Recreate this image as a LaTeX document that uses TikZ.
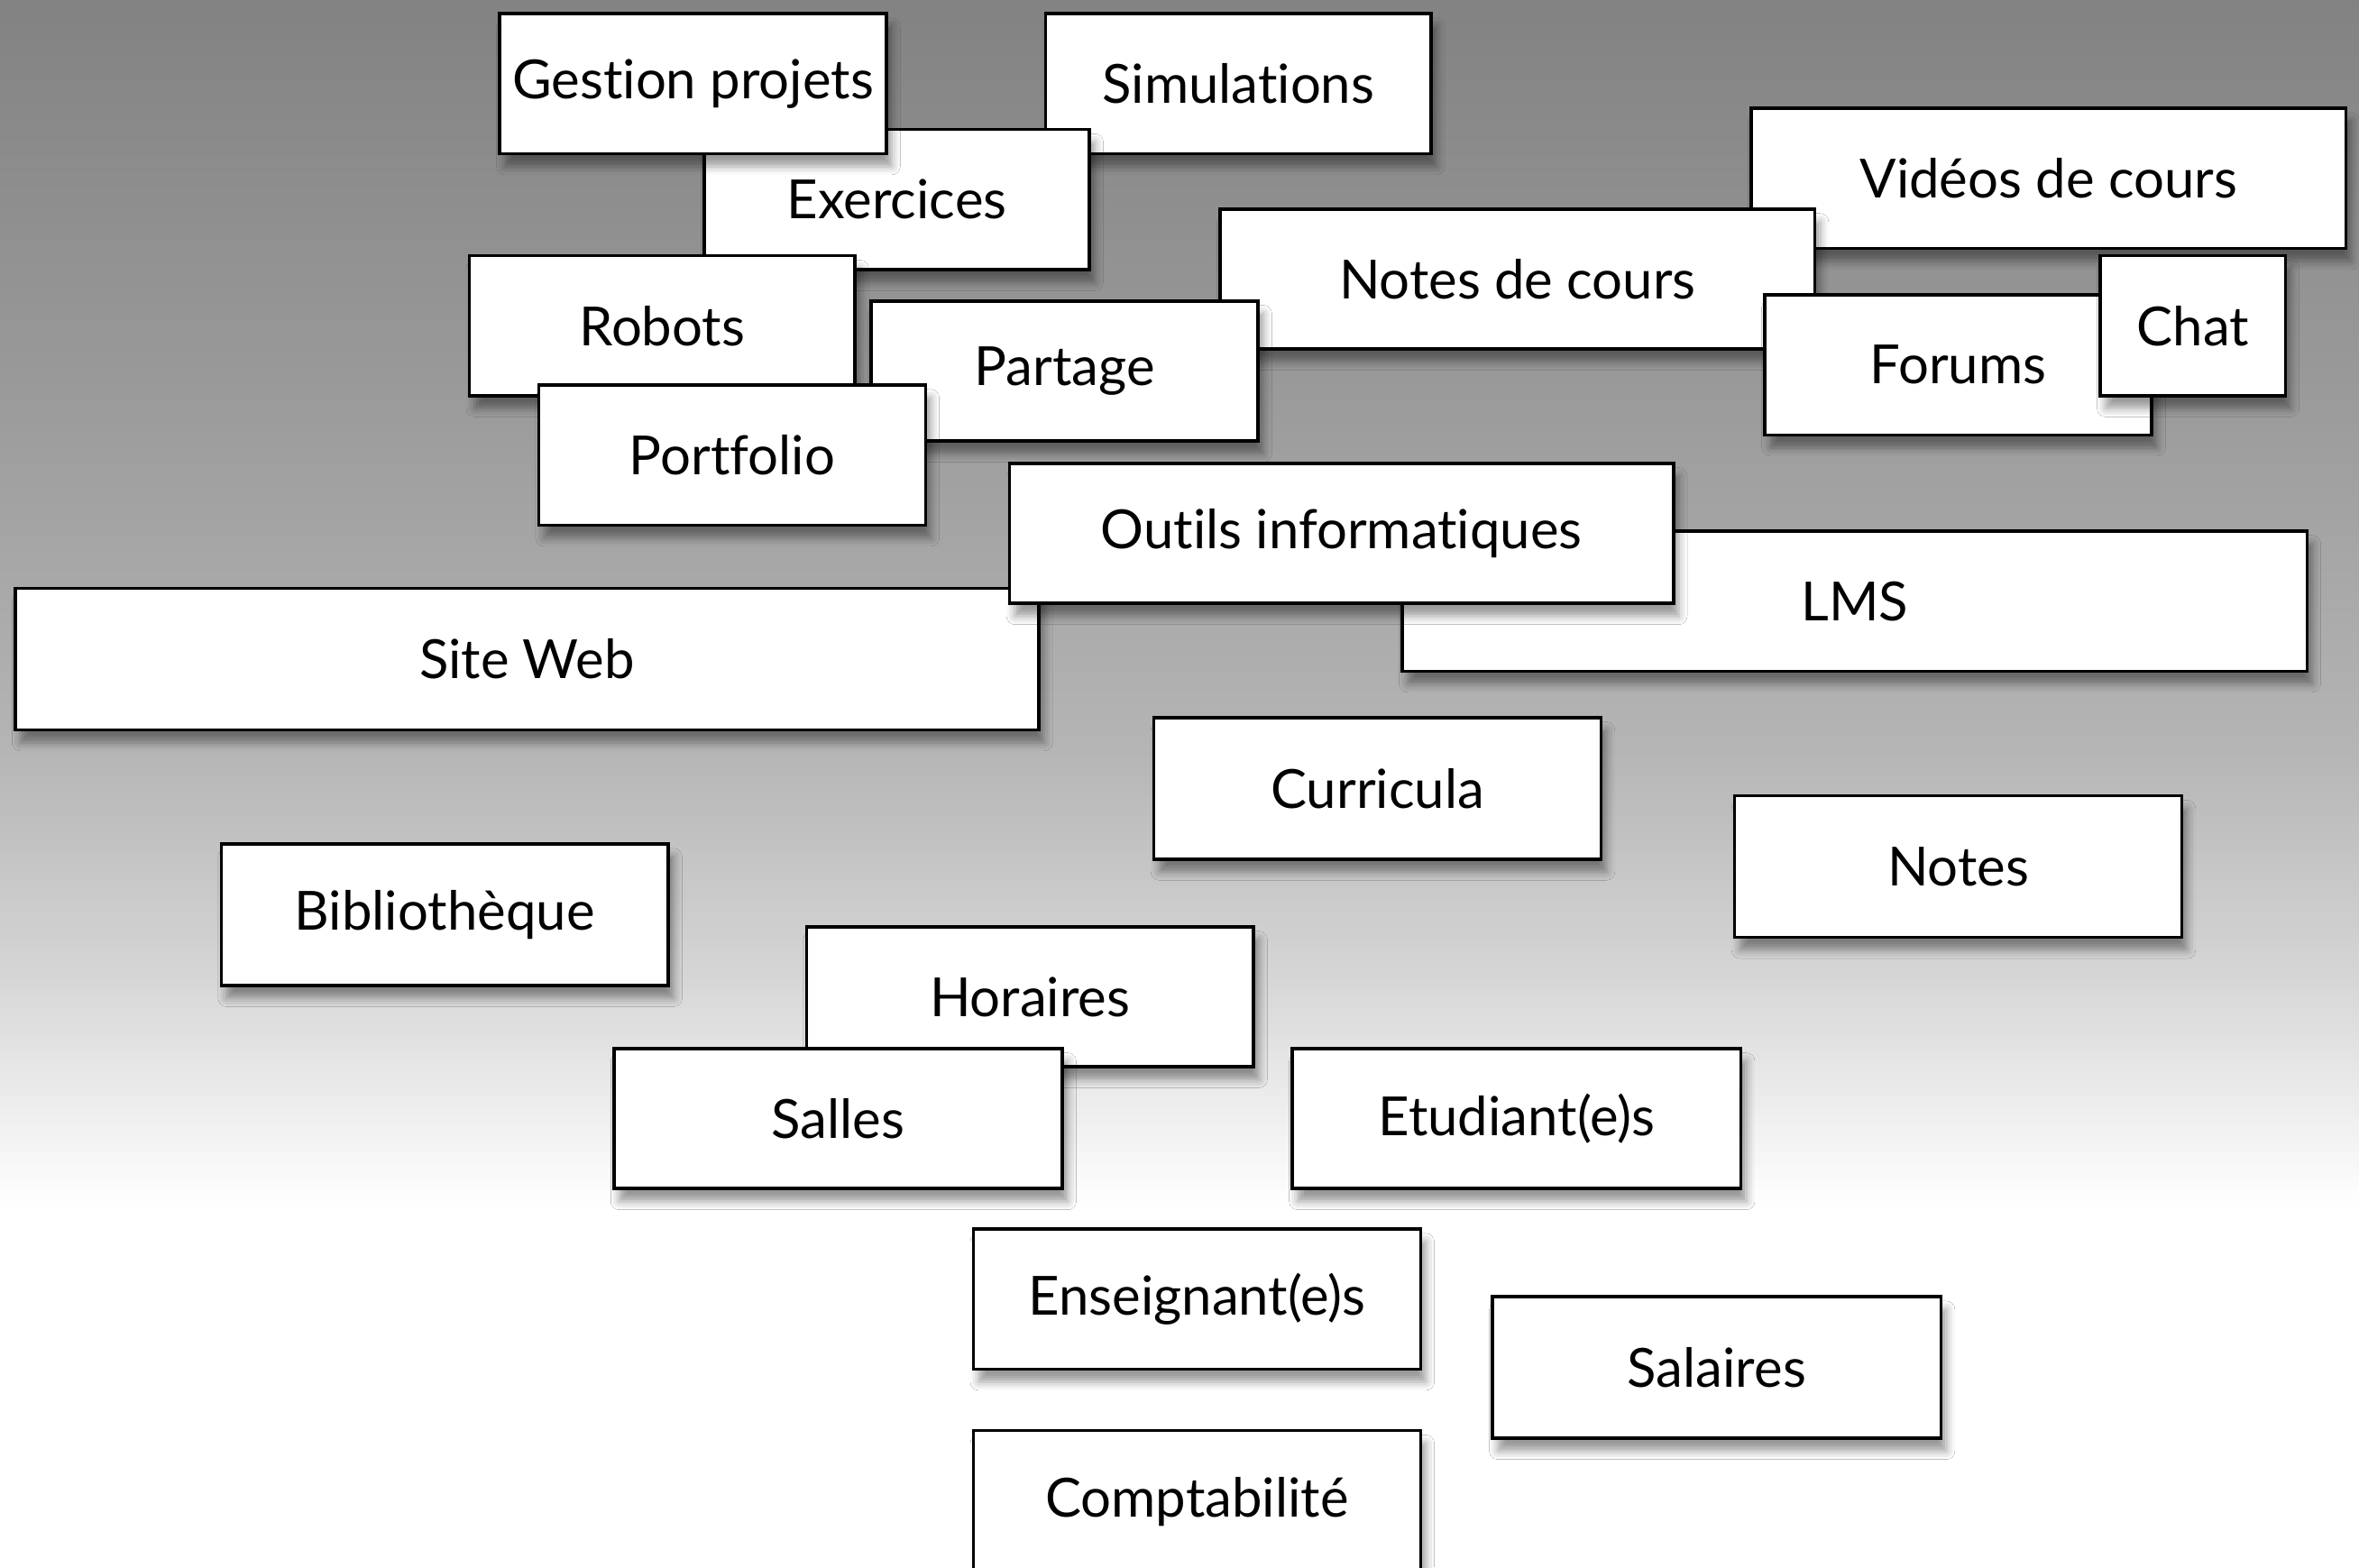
\documentclass[tikz,border=0pt]{standalone}
\usepackage{fontspec}
\setmainfont{Lato}[Ligatures=NoCommon]
\usepackage{xcolor}
\usetikzlibrary{shadows.blur}

\definecolor{bgA}{gray}{0.51}
\definecolor{bgB}{gray}{0.60}
\definecolor{bgC}{gray}{0.71}
\definecolor{bgD}{gray}{0.84}

\begin{document}
\begin{tikzpicture}[x=0.01cm,y=-0.01cm,
    card/.style={draw=black, line width=0.6pt, fill=white, anchor=north west,
      inner sep=0pt, minimum height=0.93cm, font=\fontsize{10.2}{12}\selectfont,
      blur shadow={shadow xshift=1pt, shadow yshift=-2.4pt,
        shadow blur radius=1.6pt, shadow opacity=40}}]
  \useasboundingbox (0,0) rectangle (1568,1042);
  \clip (0,0) rectangle (1568,1042);
  % background
  \shade[top color=bgA, bottom color=bgB] (0,0) rectangle (1568,251);
  \shade[top color=bgB, bottom color=bgC] (0,250) rectangle (1568,501);
  \shade[top color=bgC, bottom color=bgD] (0,500) rectangle (1568,651);
  \shade[top color=bgD, bottom color=white] (0,650) rectangle (1568,801);
  \fill[white] (0,800) rectangle (1568,1042);

  % top cluster
  \node[card, minimum width=2.56cm] (simul) at (694,8) {Simulations};
  \node[card, minimum width=2.56cm] (exerc) at (467,85) {Exercices};
  \node[card, minimum width=2.57cm] (gestion) at (331,8) {Gestion projets};
  \node[card, minimum width=2.56cm] (robots) at (311,169) {Robots};
  \node[card, minimum width=3.95cm] (videos) at (1163,71) {Vidéos de cours};
  \node[card, minimum width=3.95cm] (notescours) at (810,138) {Notes de cours};
  \node[card, minimum width=2.57cm] (partage) at (578,199) {Partage};
  \node[card, minimum width=2.57cm] (portfolio) at (357,255) {Portfolio};
  \node[card, minimum width=2.57cm] (forums) at (1172,195) {Forums};
  \node[card, minimum width=1.23cm] (chat) at (1395,169) {Chat};
  \node[card, minimum width=6.01cm] (lms) at (931,352) {LMS};
  \node[card, minimum width=6.80cm, minimum height=0.94cm] (siteweb) at (9,390) {Site Web};
  \node[card, minimum width=4.41cm] (outils) at (670,307) {Outils informatiques};

  % lower cluster
  \node[card, minimum width=2.97cm, minimum height=0.94cm] (curricula) at (766,476) {Curricula};
  \node[card, minimum width=2.97cm, minimum height=0.94cm] (notes) at (1152,528) {Notes};
  \node[card, minimum width=2.97cm, minimum height=0.94cm] (biblio) at (146,560) {Bibliothèque};
  \node[card, minimum width=2.97cm] (horaires) at (535,615) {Horaires};
  \node[card, minimum width=2.98cm] (salles) at (407,696) {Salles};
  \node[card, minimum width=2.98cm] (etud) at (858,696) {Etudiant(e)s};
  \node[card, minimum width=2.97cm] (enseign) at (646,816) {Enseignant(e)s};
  \node[card, minimum width=2.98cm, minimum height=0.94cm] (salaires) at (991,861) {Salaires};
  \node[card, minimum width=2.97cm, minimum height=0.94cm] (compta) at (646,950) {Comptabilité};
\end{tikzpicture}
\end{document}
